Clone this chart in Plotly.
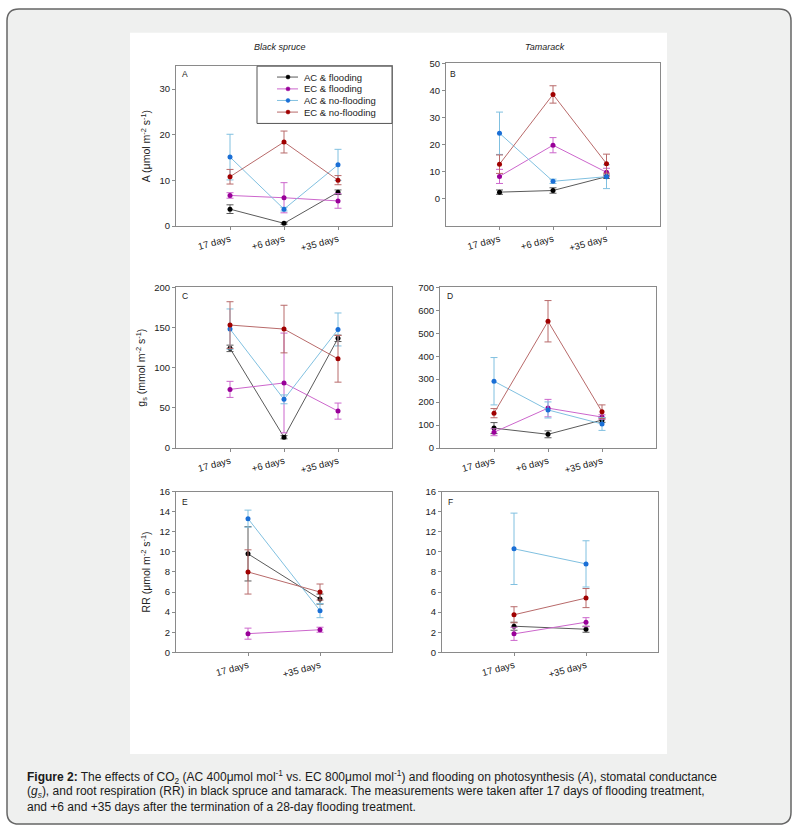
import plotly.graph_objects as go

W, H = 799, 834
def px(x): return x / W
def py(y): return 1 - y / H

# ---------------- data ----------------
series_names = ["AC & flooding", "EC & flooding", "AC & no-flooding", "EC & no-flooding"]
marker_colors = ["#000000", "#990099", "#1a6fd6", "#a00000"]
line_colors = ["#5a5a5a", "#cc66cc", "#80c0e0", "#b86a6a"]

days3 = ["17 days", "+6 days", "+35 days"]
days2 = ["17 days", "+35 days"]

# Photosynthesis A (umol m-2 s-1)
A_spruce = [[3.7, 0.6, 7.4], [6.7, 6.2, 5.5], [15.1, 3.7, 13.4], [10.8, 18.4, 10.05]]
A_spruce_err = [[0.95, 0.2, 0.5], [0.6, 3.3, 1.6], [5.0, 0.4, 3.4], [1.6, 2.4, 1.0]]
A_tam = [[2.5, 3.1, 8.2], [8.3, 19.8, 9.8], [24.2, 6.5, 8.2], [12.8, 38.5, 13.0]]
A_tam_err = [[0.8, 1.0, 0.6], [2.6, 2.8, 1.5], [7.8, 0.8, 4.4], [3.4, 3.2, 3.5]]
# Stomatal conductance gs (mmol m-2 s-1)
gs_spruce = [[124, 13.5, 136.5], [73, 81, 46], [148, 60.6, 147.5], [153, 148, 111]]
gs_spruce_err = [[4, 2, 4], [10, 62, 10], [25, 5.5, 20.5], [29, 29.6, 29]]
gs_tam = [[87, 60, 122], [69, 174, 135], [291, 166, 105], [152, 552, 158]]
gs_tam_err = [[24, 15, 10], [15, 38, 10], [103, 35, 28], [20, 90, 30]]
# Root respiration RR (umol m-2 s-1)
RR_spruce = [[9.8, 5.3], [1.86, 2.25], [13.3, 4.15], [8.0, 6.0]]
RR_spruce_err = [[2.7, 0.5], [0.55, 0.25], [0.85, 0.7], [2.2, 0.8]]
RR_tam = [[2.6, 2.3], [1.84, 3.0], [10.3, 8.8], [3.74, 5.4]]
RR_tam_err = [[0.4, 0.3], [0.65, 0.45], [3.55, 2.3], [0.8, 0.95]]

FONT = "Liberation Sans, Arial, sans-serif"

panels = [
    (days3, A_spruce, A_spruce_err, (176, 392, 61, 223), [0, 35], [0, 10, 20, 30],
     "A (μmol m<sup>-2</sup> s<sup>-1</sup>)", "A", (180, 69)),
    (days3, A_tam, A_tam_err, (446, 660, 58, 223), [-10, 50], [0, 10, 20, 30, 40, 50],
     None, "B", (448, 69)),
    (days3, gs_spruce, gs_spruce_err, (176, 392, 285, 448), [0, 200], [0, 50, 100, 150, 200],
     "g<sub>s</sub> (mmol m<sup>-2</sup> s<sup>-1</sup>)", "C", (180, 294)),
    (days3, gs_tam, gs_tam_err, (440, 656, 285, 448), [0, 700], [0, 100, 200, 300, 400, 500, 600, 700],
     None, "D", (445, 294)),
    (days2, RR_spruce, RR_spruce_err, (176, 392, 492, 655), [0, 16], [0, 2, 4, 6, 8, 10, 12, 14, 16],
     "RR (μmol m<sup>-2</sup> s<sup>-1</sup>)", "E", (180, 503)),
    (days2, RR_tam, RR_tam_err, (442, 658, 492, 655), [0, 16], [0, 2, 4, 6, 8, 10, 12, 14, 16],
     None, "F", (446, 503)),
]

fig = go.Figure()
layout = {}
annotations = []
shapes = []

for i, (cats, means, errs, box, yr, tv, ytitle, letter, lpos) in enumerate(panels, start=1):
    xa = "x" if i == 1 else f"x{i}"
    ya = "y" if i == 1 else f"y{i}"
    for s in range(4):
        fig.add_trace(go.Scatter(
            x=cats, y=means[s], xaxis=xa, yaxis=ya, mode="lines+markers",
            name=series_names[s], showlegend=False,
            line=dict(color=line_colors[s], width=1),
            marker=dict(color=marker_colors[s], size=5),
            error_y=dict(type="data", array=errs[s], visible=True,
                         color=line_colors[s], thickness=1, width=3.5),
        ))
    l, r, t, b = box
    xkey = "xaxis" if i == 1 else f"xaxis{i}"
    ykey = "yaxis" if i == 1 else f"yaxis{i}"
    layout[xkey] = dict(
        domain=[px(l), px(r)], anchor=ya, type="category",
        range=[-1, len(cats)], showline=True, mirror=True, linecolor="#8a8a8a",
        linewidth=1, ticks="outside", ticklen=3, tickcolor="#8a8a8a",
        tickangle=-15, showgrid=False, zeroline=False,
        tickfont=dict(family=FONT, size=9.5, color="#222"), fixedrange=True,
    )
    layout[ykey] = dict(
        domain=[py(b), py(t)], anchor=xa, range=yr, tickvals=tv,
        showline=True, mirror=True, linecolor="#8a8a8a", linewidth=1,
        ticks="outside", ticklen=3, tickcolor="#8a8a8a",
        showgrid=False, zeroline=False,
        tickfont=dict(family=FONT, size=9.5, color="#222"), fixedrange=True,
    )
    if ytitle:
        layout[ykey]["title"] = dict(text=ytitle, standoff=6,
                                     font=dict(family=FONT, size=10.5, color="#222"))
    annotations.append(dict(
        x=px(lpos[0]), y=py(lpos[1]), xref="paper", yref="paper", text=letter,
        showarrow=False, xanchor="left", yanchor="middle",
        font=dict(family=FONT, size=8.5, color="#222"),
    ))

# column titles
annotations.append(dict(x=px(280), y=py(42), xref="paper", yref="paper",
                        text="<i>Black spruce</i>", showarrow=False,
                        xanchor="center", yanchor="middle",
                        font=dict(family=FONT, size=9, color="#222")))
annotations.append(dict(x=px(545), y=py(42), xref="paper", yref="paper",
                        text="<i>Tamarack</i>", showarrow=False,
                        xanchor="center", yanchor="middle",
                        font=dict(family=FONT, size=9, color="#222")))

# legend (inside panel A)
shapes.append(dict(type="rect", xref="paper", yref="paper",
                   x0=px(257), x1=px(392), y0=py(119), y1=py(61),
                   line=dict(color="#555", width=1), fillcolor="white", layer="above"))
leg_rows = [72, 84, 95.7, 107.5]
for s in range(4):
    yy = leg_rows[s]
    shapes.append(dict(type="line", xref="paper", yref="paper",
                       x0=px(277), x1=px(298), y0=py(yy), y1=py(yy),
                       line=dict(color=line_colors[s], width=1), layer="above"))
    shapes.append(dict(type="circle", xref="paper", yref="paper",
                       x0=px(286), x1=px(290), y0=py(yy + 2), y1=py(yy - 2),
                       line=dict(color=marker_colors[s], width=0.5),
                       fillcolor=marker_colors[s], layer="above"))
    annotations.append(dict(x=px(302), y=py(yy), xref="paper", yref="paper",
                            text=series_names[s], showarrow=False,
                            xanchor="left", yanchor="middle",
                            font=dict(family=FONT, size=9.5, color="#222")))

# page background: rounded grey card + white figure area
def rounded_path(L, T, R, B, r):
    pts = [
        ("M", (L + r, T)), ("L", (R - r, T)), ("Q", (R, T), (R, T + r)),
        ("L", (R, B - r)), ("Q", (R, B), (R - r, B)), ("L", (L + r, B)),
        ("Q", (L, B), (L, B - r)), ("L", (L, T + r)), ("Q", (L, T), (L + r, T)),
    ]
    out = []
    for p in pts:
        cmd = p[0]
        coords = " ".join(f"{px(x):.5f},{py(y):.5f}" for (x, y) in p[1:])
        out.append(f"{cmd} {coords}")
    return " ".join(out) + " Z"

shapes.insert(0, dict(type="path", xref="paper", yref="paper",
                      path=rounded_path(7, 3, 791, 829, 12),
                      fillcolor="#eff0ef", line=dict(color="#666", width=1.5),
                      layer="below"))
shapes.insert(1, dict(type="rect", xref="paper", yref="paper",
                      x0=px(130), x1=px(667), y0=py(758), y1=py(27),
                      fillcolor="white", line=dict(width=0), layer="below"))

# caption
caption_lines = [
    "<b>Figure 2:</b> The effects of CO<sub>2</sub> (AC 400μmol mol<sup>-1</sup> vs. EC 800μmol mol<sup>-1</sup>) and flooding on photosynthesis (<i>A</i>), stomatal conductance",
    "(<i>g<sub>s</sub></i>), and root respiration (RR) in black spruce and tamarack. The measurements were taken after 17 days of flooding treatment,",
    "and +6 and +35 days after the termination of a 28-day flooding treatment.",
]
cap_y = [781, 797, 812]
for txt, yy in zip(caption_lines, cap_y):
    annotations.append(dict(x=px(25), y=py(yy), xref="paper", yref="paper",
                            text=txt, showarrow=False, xanchor="left", yanchor="middle",
                            font=dict(family=FONT, size=12, color="#1a1a1a")))

fig.update_layout(
    width=W, height=H, margin=dict(l=0, r=0, t=0, b=0),
    paper_bgcolor="white", plot_bgcolor="rgba(0,0,0,0)",
    showlegend=False, annotations=annotations, shapes=shapes,
    font=dict(family=FONT, color="#222"),
    **layout,
)

post_js = (
    "document.documentElement.style.margin='0px';"
    "document.documentElement.style.overflow='hidden';"
    "document.body.style.margin='0px';"
    "document.body.style.overflow='hidden';"
    "var gd=document.getElementsByClassName('plotly-graph-div')[0];"
    "gd.style.position='fixed';gd.style.left='0px';gd.style.top='0px';"
)

fig.write_html("out.html", post_script=post_js, config={"displayModeBar": False})
